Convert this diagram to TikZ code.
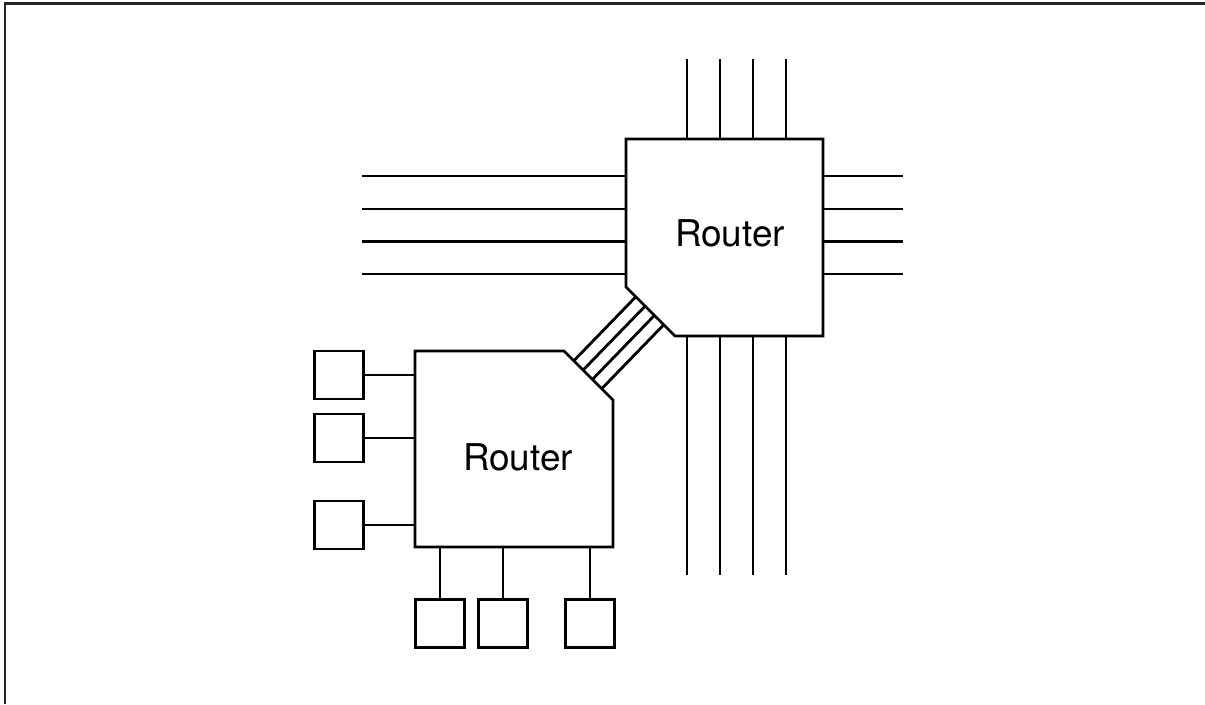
\documentclass[tikz,border=0pt]{standalone}
\usepackage{fontspec}
\setmainfont{TeX Gyre Heros}
\usetikzlibrary{calc}
\tikzset{
  wire/.style={line width=1.6pt},
  hostbox/.style={draw,line width=1.6pt,minimum width=0.98cm,minimum height=0.96cm,inner sep=0pt},
  routerlabel/.style={font=\fontsize{21}{25}\selectfont,inner sep=0pt,anchor=base}
}

\begin{document}
\begin{tikzpicture}[x=1cm,y=1cm]
\path[use as bounding box] (0,0) rectangle (24.10,14.08);
\draw[line width=1.3pt,black!85] (0.10,0) -- (0.10,14.01) -- (24.10,14.01);
% upper router
\coordinate (R1nw) at (12.52,11.30);
\coordinate (R1ne) at (16.46,11.30);
\coordinate (R1se) at (16.46,7.36);
\coordinate (R1sc) at (13.50,7.36);
\coordinate (R1cw) at (12.52,8.34);
\draw[wire] (R1nw) -- (R1ne) -- (R1se) -- (R1sc) -- (R1cw) -- cycle;
\node[routerlabel] (bigRouter) at (14.60,9.14) {Router};
\foreach \x in {13.74,14.40,15.06,15.72} {
  \draw[wire] (\x,12.90) -- (R1nw -| \x,0);
  \draw[wire] (R1sc -| \x,0) -- (\x,2.58);
}
\foreach \y in {10.56,9.90,9.25,8.60} {
  \draw[wire] (7.24,\y) -- (R1nw |- 0,\y);
  \draw[wire] (R1ne |- 0,\y) -- (18.06,\y);
}
% lower router
\coordinate (R2nw) at (8.30,7.06);
\coordinate (R2ne) at (11.28,7.06);
\coordinate (R2ec) at (12.26,6.08);
\coordinate (R2se) at (12.26,3.14);
\coordinate (R2sw) at (8.30,3.14);
\draw[wire] (R2nw) -- (R2ne) -- (R2ec) -- (R2se) -- (R2sw) -- cycle;
\node[routerlabel] (smallRouter) at (10.36,4.68) {Router};
% link between the routers
\foreach \f in {0.20,0.39,0.58,0.77}
  \draw[wire] ($(R2ne)!\f!(R2ec)$) -- ($(R1cw)!\f!(R1sc)$);
% hosts
\foreach \n/\y in {hostA/6.58,hostB/5.32,hostC/3.58} {
  \node[hostbox] (\n) at (6.78,\y) {};
  \draw[wire] (\n.east) -- (\n.east -| R2nw);
}
\foreach \n/\x in {hostD/8.80,hostE/10.06,hostF/11.80} {
  \node[hostbox] (\n) at (\x,1.61) {};
  \draw[wire] (\n.north) -- (\n.north |- R2sw);
}
\end{tikzpicture}
\end{document}
